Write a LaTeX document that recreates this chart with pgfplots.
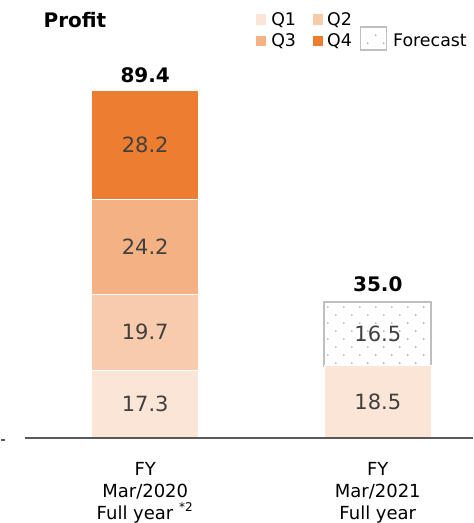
\documentclass[border=0pt]{standalone}
\usepackage{fontspec}
\setmainfont{DejaVu Sans}
\usepackage{pgfplots}
\usepackage{pgfplotstable}
\pgfplotsset{compat=1.18}
\usetikzlibrary{patterns}
\definecolor{qone}{HTML}{FBE5D6}
\definecolor{qtwo}{HTML}{F8CBAD}
\definecolor{qthree}{HTML}{F4B183}
\definecolor{qfour}{HTML}{ED7D31}
\definecolor{axisgray}{HTML}{595959}
\definecolor{labeltext}{HTML}{404040}
\definecolor{fcborder}{HTML}{BFBFBF}
\definecolor{dotgray}{HTML}{A0A0A0}
\pgfdeclarepatternformonly{sparsedots}{\pgfpoint{-1pt}{-1pt}}{\pgfpoint{7pt}{7pt}}{\pgfpoint{8pt}{8pt}}{%
  \pgfpathcircle{\pgfpoint{0pt}{0pt}}{0.45pt}%
  \pgfpathcircle{\pgfpoint{4pt}{4pt}}{0.45pt}%
  \pgfusepath{fill}}
% FY Mar/2020 (x = 144.3), FY Mar/2021 (x = 377)
\pgfplotstableread{
x     q1    q2    q3    q4
144.3 17.3  19.7  24.2  28.2
}\fyA
\pgfplotstableread{
x     q1    fc
377   18.5  16.5
}\fyB
\pgfplotsset{
  profitbase/.style={
    scale only axis, width=224pt, height=219pt,
    xmin=24, xmax=472, ymin=0, ymax=112.6,
    axis y line=none, axis x line*=bottom,
    x axis line style={draw=axisgray, line width=1pt},
    major tick length=0pt,
    ytick=\empty,
    clip=false,
    axis on top=true,
    ybar stacked, bar width=53.7pt,
    nodes near coords={\pgfmathprintnumber[fixed,fixed zerofill,precision=1,assume math mode=true]{\rawy}},
    every node near coord/.append style={anchor=center, font=\fontsize{10.5}{12}\selectfont, text=labeltext},
    xticklabel style={align=center, font=\fontsize{9}{11}\selectfont, text=black, inner sep=0pt, anchor=north, yshift=-12pt},
  },
  seg/.style={fill=#1, draw=white, line width=0.4pt},
}
\begin{document}
\begin{tikzpicture}
\begin{scope}[x=0.5pt,y=-0.5pt,shift={(-24,-438)}]
\useasboundingbox (0,0) rectangle (472,523);
\end{scope}
\begin{axis}[profitbase, xtick={144.3}, xticklabels={{FY\\Mar/2020\\Full year \textsuperscript{*2}}}]
\addplot[seg=qone, visualization depends on={\thisrow{q1} \as \rawy}] table[x=x, y=q1] {\fyA};
\addplot[seg=qtwo, visualization depends on={\thisrow{q2} \as \rawy}] table[x=x, y=q2] {\fyA};
\addplot[seg=qthree, visualization depends on={\thisrow{q3} \as \rawy}] table[x=x, y=q3] {\fyA};
\addplot[seg=qfour, visualization depends on={\thisrow{q4} \as \rawy}] table[x=x, y=q4] {\fyA};
\node[anchor=base, font=\bfseries\fontsize{10}{12}\selectfont, yshift=4pt] at (axis cs:144.3,89.4) {89.4};
\end{axis}
\begin{axis}[profitbase, xtick={377}, xticklabels={{FY\\Mar/2021\\Full year}}]
\addplot[seg=qone, visualization depends on={\thisrow{q1} \as \rawy}] table[x=x, y=q1] {\fyB};
\addplot[pattern=sparsedots, pattern color=dotgray, draw=fcborder, line width=1pt, visualization depends on={\thisrow{fc} \as \rawy}] table[x=x, y=fc] {\fyB};
\node[anchor=base, font=\bfseries\fontsize{10}{12}\selectfont, yshift=5pt] at (axis cs:377,35.0) {35.0};
\end{axis}
\begin{scope}[x=0.5pt,y=-0.5pt,shift={(-24,-438)}]
\draw[axisgray, line width=1pt] (0,440.5) -- (4,440.5);
\node[font=\bfseries\fontsize{10}{12}\selectfont, inner sep=0pt] at (74,20) {Profit};
\fill[qone] (255,14) rectangle (265,25);
\fill[qtwo] (312,14) rectangle (322,25);
\fill[qthree] (255,36) rectangle (265,46);
\fill[qfour] (312,36) rectangle (322,46);
\draw[fcborder, line width=0.6pt, pattern=sparsedots, pattern color=dotgray] (360,27) rectangle (386,50);
\begin{scope}[every node/.style={anchor=base west, font=\fontsize{8.7}{10}\selectfont, inner sep=0pt}]
\node at (270,25.5) {Q1};
\node at (326,25.5) {Q2};
\node at (270,47) {Q3};
\node at (326,47) {Q4};
\node at (392,47) {Forecast};
\end{scope}
\end{scope}
\end{tikzpicture}
\end{document}
